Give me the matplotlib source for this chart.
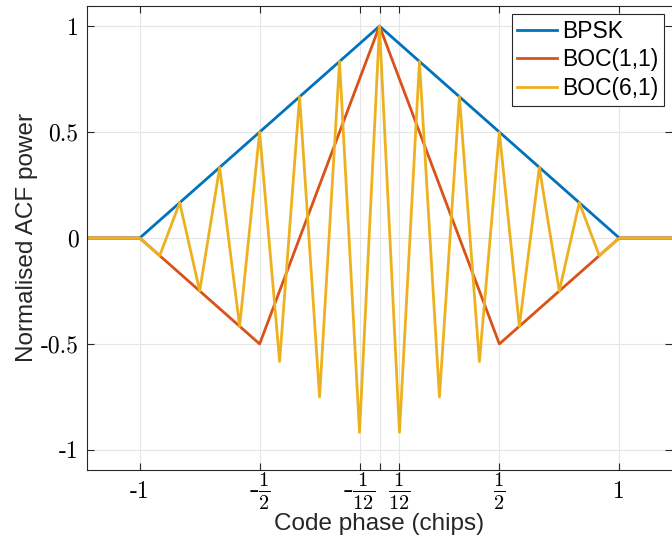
import matplotlib
matplotlib.use("Agg")
import matplotlib.pyplot as plt
import numpy as np

plt.rcParams['mathtext.fontset'] = 'cm'
plt.rcParams['font.family'] = ['Liberation Sans', 'DejaVu Sans']

# code phase (chips)
tau_bpsk = [-1.22, -1, 0, 1, 1.22]
acf_bpsk = [0, 0, 1, 0, 0]

tau_boc11 = [-1.22, -1, -0.5, 0, 0.5, 1, 1.22]
acf_boc11 = [0, 0, -0.5, 1, -0.5, 0, 0]

# BOC(6,1): breakpoints every 1/12 chip
k = np.arange(-12, 13)
tau_boc61 = np.concatenate(([-1.22], k / 12, [1.22]))
acf_boc61 = np.array([0,
                      0, -0.083, 0.167, -0.25, 0.333, -0.417, 0.5, -0.583, 0.667, -0.75, 0.833, -0.917,
                      1,
                      -0.917, 0.833, -0.75, 0.667, -0.583, 0.5, -0.417, 0.333, -0.25, 0.167, -0.083, 0,
                      0])

xticks = [-1, -1/2, -1/12, 0, 1/12, 1/2, 1]
xticklabels = ['-1', r'-$\frac{1}{2}$', r'-$\frac{1}{12}$', '', r'$\frac{1}{12}$', r'$\frac{1}{2}$', '1']
yticks = [-1, -0.5, 0, 0.5, 1]
yticklabels = ['-1', '-0.5', '0', '0.5', '1']

fig = plt.figure(figsize=(6.72, 5.4), dpi=100)
ax = fig.add_axes([87/672, 70/540, 1 - 87/672, 464/540])

ax.plot(tau_bpsk, acf_bpsk, color='#0072BD', lw=2, label='BPSK')
ax.plot(tau_boc11, acf_boc11, color='#D95319', lw=2, label='BOC(1,1)')
ax.plot(tau_boc61, acf_boc61, color='#EDB120', lw=2, label='BOC(6,1)')

ax.set_xlim(-1.22, 1.22)
ax.set_ylim(-1.095, 1.095)
ax.set_xticks(xticks)
ax.set_xticklabels(xticklabels, family='cmr10', fontsize=17, va='center')
for lab in ax.get_xticklabels():
    if 'frac' in lab.get_text():
        lab.set_fontsize(21)
ax.set_yticks(yticks)
ax.set_yticklabels(yticklabels, family='cmr10', fontsize=17)
ax.tick_params(direction='in', top=True, right=True, length=5, color='#262626')
ax.tick_params(axis='x', pad=15.5)
ax.tick_params(axis='y', pad=6)
ax.grid(True, color='#e6e6e6', lw=0.8)
for s in ax.spines.values():
    s.set_color('#262626')
ax.spines['right'].set_visible(False)

ax.set_xlabel('Code phase (chips)', fontsize=17.5, color='#262626')
ax.xaxis.set_label_coords(0.5, -0.093)
ax.set_ylabel('Normalised ACF power', fontsize=17.5, color='#262626', labelpad=2)

leg = ax.legend(loc='upper right', fontsize=16.5, fancybox=False, framealpha=1,
                edgecolor='#262626', handlelength=1.75, handletextpad=0.2,
                borderpad=0.25, labelspacing=0.25, borderaxespad=0.35)
leg.get_frame().set_linewidth(0.8)

fig.savefig('out.png', dpi=100)
